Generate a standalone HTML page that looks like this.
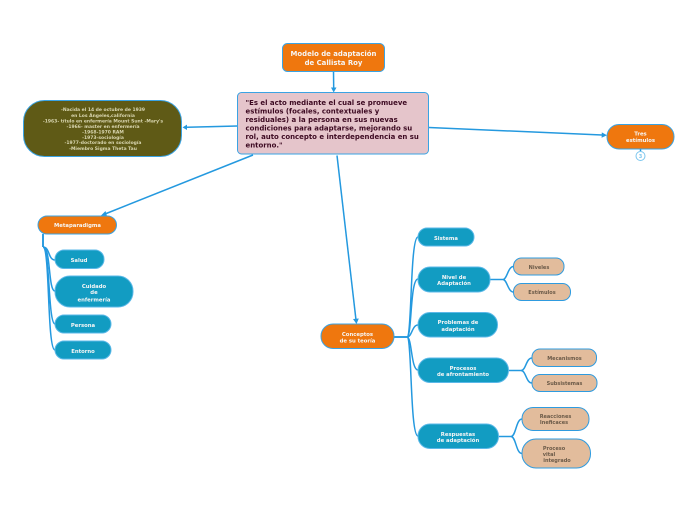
<!DOCTYPE html>
<html><head><meta charset="utf-8"><style>
html,body{margin:0;padding:0;background:#fff}
svg{display:block}
text{font-family:"DejaVu Sans",sans-serif;font-weight:bold;text-anchor:middle}
.l{fill:none;stroke:#2499df;stroke-width:1.5}
.n{stroke:#3aa3e3;stroke-width:1}
.o{fill:#ef770e}.b{fill:#129cc2;stroke:#5bb8e8}.t{fill:#e2bc9c;stroke:#2f9bdf}
.w{fill:#f6f6f6}.d{fill:#6b5a48}
</style></head><body>
<svg width="697" height="520" viewBox="0 0 697 520" xmlns="http://www.w3.org/2000/svg">
<rect width="697" height="520" fill="#fff"/>
<!-- connectors -->
<g class="l">
<path d="M333.5 71.5L333.7 88"/>
<path d="M237.5 126L187 127.3"/>
<path d="M429 127.5L602 135"/>
<path d="M253 155L105 214"/>
<path d="M337 155.5L356 320"/>
<path d="M43 234V247" stroke-width="1.9"/>
<path d="M43 247C50 247 48 260 55 260"/>
<path d="M43 247C51 247 48 291 55 291"/>
<path d="M43 247C50 247 48 324 55 324"/>
<path d="M43 247C50 247 47 350 55 350"/>
<path d="M394 337H407" stroke-width="1.9"/>
<path d="M407 337C412 337 410 237 418 237"/>
<path d="M407 337C412 337 410 279 418 279"/>
<path d="M407 337C412 337 412 325 418 325"/>
<path d="M407 337C412 337 411 370 418 370"/>
<path d="M407 337C412 337 410 436 418 436"/>
<path d="M490 279.5H503"/>
<path d="M503 279.5C507 279.5 508 266.5 513.5 266.5"/>
<path d="M503 279.5C507 279.5 508 292 513.5 292"/>
<path d="M508.5 370.5H521"/>
<path d="M521 370.5C526 370.5 526 358 532 358"/>
<path d="M521 370.5C526 370.5 526 383 532 383"/>
<path d="M498.5 436.5H511"/>
<path d="M511 436.5C516 436.5 516 419 522 419"/>
<path d="M511 436.5C516 436.5 516 453.5 522 453.5"/>
<path d="M640.5 149V151"/>
</g>
<g fill="#2499df">
<path d="M331 87.5H336.5L333.7 92.5Z"/>
<path d="M187 124.6V130L182.5 127.4Z"/>
<path d="M601.8 132.4L601.6 137.8L607 135.3Z"/>
<path d="M105.5 211L107 216L100.5 216Z"/>
<path d="M353 319L358.8 318.5L356.5 324Z"/>
</g>
<!-- nodes -->
<rect class="n o" x="282.5" y="43.5" width="102" height="28" rx="5"/>
<rect class="n" fill="#e5c5cb" x="237.5" y="92.5" width="191" height="61.5" rx="4"/>
<rect class="n" fill="#5f5a16" x="23.5" y="100.5" width="158" height="56" rx="21"/>
<rect class="n o" x="607" y="124.5" width="67" height="24.5" rx="12"/>
<circle cx="640.5" cy="156" r="4.5" fill="#fff" stroke="#7cc6ee" stroke-width="1"/>
<rect class="n o" x="38" y="216" width="78.5" height="18" rx="9"/>
<rect class="n o" x="321" y="324" width="73" height="24.5" rx="12"/>
<rect class="n b" x="55" y="250" width="49" height="18.5" rx="9"/>
<rect class="n b" x="55" y="276" width="78" height="31" rx="15"/>
<rect class="n b" x="55" y="315" width="56" height="18" rx="9"/>
<rect class="n b" x="55" y="341" width="56" height="18" rx="9"/>
<rect class="n b" x="418" y="228" width="56" height="18" rx="9"/>
<rect class="n b" x="418" y="267" width="72" height="25" rx="12"/>
<rect class="n b" x="418" y="312.5" width="79.5" height="24.5" rx="12"/>
<rect class="n b" x="418" y="358" width="90.5" height="24.5" rx="12"/>
<rect class="n b" x="418" y="424" width="80.5" height="24.5" rx="12"/>
<rect class="n t" x="513.5" y="258" width="50.5" height="17" rx="8"/>
<rect class="n t" x="513.5" y="283.5" width="57" height="17" rx="8"/>
<rect class="n t" x="532" y="349" width="64.5" height="17.5" rx="8"/>
<rect class="n t" x="532" y="374.5" width="65" height="17" rx="8"/>
<rect class="n t" x="522" y="407.5" width="67" height="23" rx="11"/>
<rect class="n t" x="522" y="439" width="68.5" height="29" rx="14"/>
<!-- labels -->
<g class="w" font-size="6.9">
<text x="333.5" y="56">Modelo de adaptación</text>
<text x="333.5" y="65">de Callista Roy</text>
</g>
<g fill="#3d0a22" font-size="6.95">
<text x="245.5" y="105" style="text-anchor:start">"Es el acto mediante el cual se promueve</text>
<text x="245.5" y="113.5" style="text-anchor:start">estímulos (focales, contextuales y</text>
<text x="245.5" y="122" style="text-anchor:start">residuales) a la persona en sus nuevas</text>
<text x="245.5" y="130.5" style="text-anchor:start">condiciones para adaptarse, mejorando su</text>
<text x="245.5" y="139" style="text-anchor:start">rol, auto concepto e interdependencia en su</text>
<text x="245.5" y="147.5" style="text-anchor:start">entorno."</text>
</g>
<g fill="#d9d6b0" font-size="4.5">
<text x="103" y="111">-Nacida el 14 de octubre de 1939</text>
<text x="103" y="117">en Los Ángeles,california</text>
<text x="103" y="122.5">-1963- título en enfermería Mount Sunt -Mary's</text>
<text x="103" y="128">-1966- master en enfermería</text>
<text x="103" y="133.5">-1968-1970  RAM</text>
<text x="103" y="139">-1973-sociología</text>
<text x="103" y="144">-1977-doctorado en sociología</text>
<text x="103" y="150">-Miembro Sigma Theta Tau</text>
</g>
<g class="w" font-size="5.3">
<text x="640.5" y="135.5">Tres</text>
<text x="640.5" y="142">estímulos</text>
<text x="77.5" y="227">Metaparadigma</text>
<text x="79" y="262">Salud</text>
<text x="94" y="288">Cuidado</text>
<text x="94" y="294">de</text>
<text x="94" y="301.5">enfermería</text>
<text x="83" y="327">Persona</text>
<text x="83" y="353">Entorno</text>
<text x="357.5" y="336">Conceptos</text>
<text x="357.5" y="342.5">de su teoría</text>
<text x="446" y="240">Sistema</text>
<text x="454" y="279">Nivel de</text>
<text x="454" y="285">Adaptación</text>
<text x="458" y="324">Problemas de</text>
<text x="458" y="331">adaptación</text>
<text x="463" y="370">Procesos</text>
<text x="463" y="376">de afrontamiento</text>
<text x="458" y="436">Respuestas</text>
<text x="458" y="442">de adaptación</text>
</g>
<g class="d" font-size="5">
<text x="539" y="269">Niveles</text>
<text x="542" y="294">Estímulos</text>
<text x="564.5" y="360">Mecanismos</text>
<text x="564.5" y="385">Subsistemas</text>
<text x="555.5" y="418">Reacciones</text>
<text x="554" y="424">Ineficaces</text>
<text x="554" y="450">Proceso</text>
<text x="549" y="456">vital</text>
<text x="557" y="462">integrado</text>
</g>
<text x="640.5" y="158" font-size="5" fill="#7cc6ee">3</text>
</svg>
</body></html>
